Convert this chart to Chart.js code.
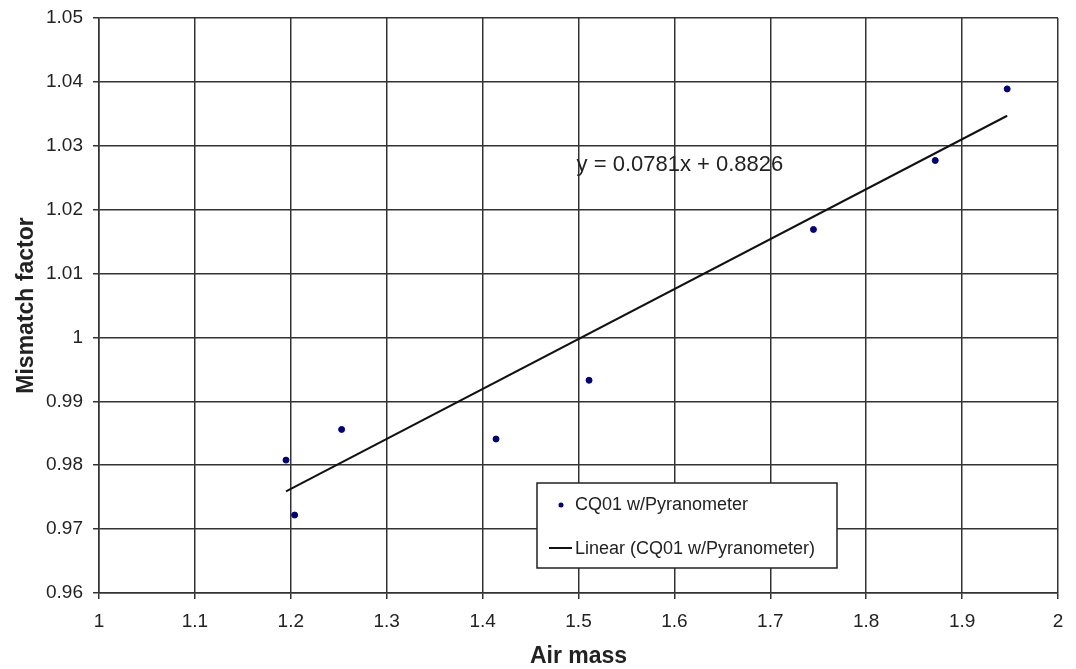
<!DOCTYPE html>
<html>
<head>
<meta charset="utf-8">
<script src="https://cdn.jsdelivr.net/npm/chart.js@4"></script>
<style>
  body { margin: 0; background: #fff; }
  #wrap { width: 1076px; height: 669px; }
</style>
</head>
<body>
<div id="wrap"><canvas id="myChart" width="1076" height="669"></canvas></div>
<script>
// measured points (air mass, mismatch factor)
var airMass = [1.195, 1.204, 1.253, 1.414, 1.511, 1.745, 1.872, 1.947];
var mismatch = [0.9808, 0.9722, 0.9856, 0.9841, 0.9933, 1.0169, 1.0277, 1.0389];
// trendline ends
var trendX = [1.195, 1.947];
var trendY = [0.9759, 1.0347];
var trendLabel = 'y = 0.0781x + 0.8826';
var seriesName = 'CQ01 w/Pyranometer';
var trendName = 'Linear (CQ01 w/Pyranometer)';

var font = '"Liberation Sans", Arial, sans-serif';

// equation text + legend box
var extras = {
    id: 'extras',
    afterDraw: function(chart) {
        var c = chart.ctx;
        var xs = chart.scales.x, ys = chart.scales.y;
        c.save();
        c.font = '22px ' + font;
        c.fillStyle = '#222';
        c.textBaseline = 'middle';
        c.fillText(trendLabel, xs.getPixelForValue(1.498), ys.getPixelForValue(1.027));

        // legend
        var lx = 537, ly = 483, lw = 300, lh = 85;
        c.fillStyle = '#fff';
        c.fillRect(lx, ly, lw, lh);
        c.strokeStyle = '#222';
        c.lineWidth = 1.5;
        c.strokeRect(lx, ly, lw, lh);
        c.font = '18px ' + font;
        c.fillStyle = '#222';
        c.fillText(seriesName, lx + 38, ly + 22);
        c.fillText(trendName, lx + 38, ly + 66);
        c.fillStyle = '#00007a';
        c.beginPath();
        c.arc(lx + 24, ly + 22, 2.5, 0, Math.PI * 2);
        c.fill();
        c.strokeStyle = '#111';
        c.lineWidth = 2;
        c.beginPath();
        c.moveTo(lx + 12, ly + 65);
        c.lineTo(lx + 35, ly + 65);
        c.stroke();
        c.restore();
    }
};

var ctx = document.getElementById('myChart').getContext('2d');
var myChart = new Chart(ctx, {
    type: 'scatter',
    data: {
        datasets: [{
            label: seriesName,
            data: airMass.map(function(x, i) { return { x: x, y: mismatch[i] }; }),
            backgroundColor: '#00007a',
            borderColor: '#00007a',
            pointRadius: 3,
            order: 1
        }, {
            label: trendName,
            type: 'line',
            data: trendX.map(function(x, i) { return { x: x, y: trendY[i] }; }),
            borderColor: '#111',
            borderWidth: 2,
            pointRadius: 0,
            showLine: true,
            fill: false,
            order: 2
        }]
    },
    options: {
        responsive: false,
        animation: false,
        layout: { padding: { top: 18, right: 18, left: 0, bottom: 0 } },
        plugins: {
            legend: { display: false },
            tooltip: { enabled: false }
        },
        scales: {
            x: {
                type: 'linear',
                min: 1, max: 2,
                ticks: {
                    stepSize: 0.1,
                    color: '#222',
                    font: { family: font, size: 19 },
                    padding: 11,
                    callback: function(v) { return Math.round(v * 10) / 10; }
                },
                grid: { color: '#333', lineWidth: 1.5, tickLength: 6 },
                border: { color: '#333', width: 1.5 },
                title: {
                    display: true, text: 'Air mass', color: '#222',
                    font: { family: font, size: 23, weight: 'bold', lineHeight: 1.1 },
                    padding: { top: 0, bottom: 0 }
                },
                afterFit: function(s) { s.height = 76; }
            },
            y: {
                min: 0.96, max: 1.05,
                ticks: {
                    stepSize: 0.01,
                    color: '#222',
                    font: { family: font, size: 19, lineHeight: 0.8 },
                    padding: 10,
                    callback: function(v) { return Math.round(v * 100) / 100; }
                },
                grid: { color: '#333', lineWidth: 1.5, tickLength: 6 },
                border: { color: '#333', width: 1.5 },
                title: {
                    display: true, text: 'Mismatch factor', color: '#222',
                    font: { family: font, size: 23, weight: 'bold' },
                    padding: { top: 13, bottom: 0 }
                },
                afterFit: function(s) { s.width = 99; }
            }
        }
    },
    plugins: [extras]
});
</script>
</body>
</html>
